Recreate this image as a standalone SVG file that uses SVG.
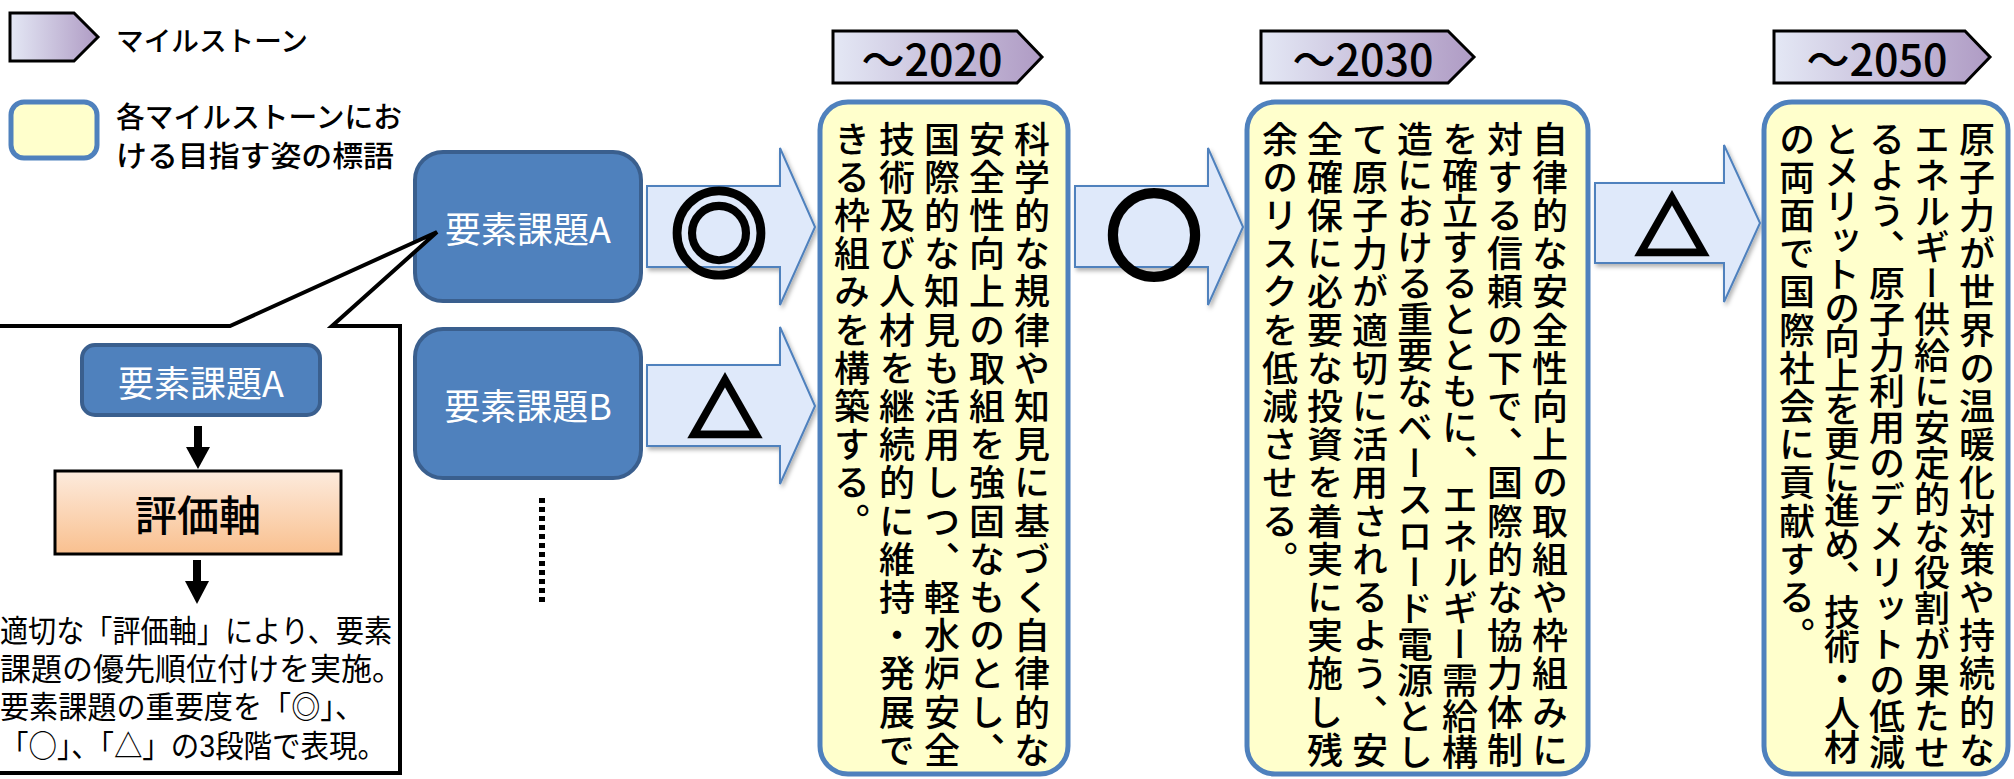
<svg xmlns="http://www.w3.org/2000/svg" width="2014" height="779" viewBox="0 0 2014 779">
<defs>
<style>
.ms{fill:url(#msGrad);stroke:#000;stroke-width:3;}
.msl{font-family:"Noto Sans CJK JP","Noto Sans CJK SC",sans-serif;font-size:43px;font-weight:500;fill:#000;text-anchor:middle;}
.goal{fill:#FFFFCC;stroke:#4F81BD;stroke-width:5;}
.vt{font-family:"Noto Sans CJK JP","Noto Sans CJK SC",sans-serif;font-size:36px;font-weight:500;fill:#000;writing-mode:vertical-rl;letter-spacing:2.2px;}
.vt18{letter-spacing:0.08px;}
.vt19{letter-spacing:-2.2px;}
.task{fill:#4F81BD;stroke:#3A5F8E;stroke-width:4;}
.tasktxt{font-family:"Noto Sans CJK JP","Noto Sans CJK SC",sans-serif;font-size:36px;fill:#fff;text-anchor:middle;}
.barrow{fill:#DFE9FA;stroke:#4F81BD;stroke-width:2;filter:url(#shadow);}
.sym{font-family:"Noto Sans CJK JP","Noto Sans CJK SC",sans-serif;font-weight:bold;fill:#000;stroke:#000;stroke-linejoin:miter;text-anchor:middle;dominant-baseline:central;}
.blk{font-family:"Noto Sans CJK JP","Noto Sans CJK SC",sans-serif;font-weight:500;fill:#000;}
.note{font-family:"Liberation Sans","Noto Sans CJK JP","Noto Sans CJK SC",sans-serif;font-size:31px;fill:#000;}
.cjk{font-family:"Noto Sans CJK JP","Noto Sans CJK SC",sans-serif;}
</style>
<linearGradient id="msGrad" x1="0" y1="0" x2="1" y2="0">
<stop offset="0" stop-color="#E4E8F5"/>
<stop offset="1" stop-color="#AF9BC4"/>
</linearGradient>
<linearGradient id="evalGrad" x1="0" y1="0" x2="0" y2="1">
<stop offset="0" stop-color="#FDEBDD"/>
<stop offset="1" stop-color="#F9C08F"/>
</linearGradient>
<filter id="shadow" x="-10%" y="-10%" width="130%" height="130%">
<feDropShadow dx="2" dy="3" stdDeviation="2" flood-color="#000" flood-opacity="0.3"/>
</filter>
</defs>

<rect x="0" y="0" width="2014" height="779" fill="#fff"/>

<g id="legend">
<polygon class="ms" points="10,13 74,13 98,37 74,61 10,61"/>
<text class="blk" x="116" y="51" font-size="27.5" textLength="192" lengthAdjust="spacingAndGlyphs">マイルストーン</text>
<rect x="11" y="102" width="86" height="56" rx="13" class="goal" stroke-width="4"/>
<text class="blk" font-size="29"><tspan x="116" y="128" textLength="286" lengthAdjust="spacingAndGlyphs">各マイルストーンにお</tspan><tspan x="116" y="167" textLength="278" lengthAdjust="spacingAndGlyphs">ける目指す姿の標語</tspan></text>
</g>

<g id="milestone-2020">
<polygon class="ms" points="833,31 1017,31 1042,57 1017,83 833,83"/>
<text class="msl" x="932" y="76">～2020</text>
</g>
<g id="milestone-2030">
<polygon class="ms" points="1261,31 1448,31 1474,57 1448,83 1261,83"/>
<text class="msl" x="1363" y="76">～2030</text>
</g>
<g id="milestone-2050">
<polygon class="ms" points="1774,31 1965,31 1990,57 1965,83 1774,83"/>
<text class="msl" x="1877" y="76">～2050</text>
</g>

<g id="connectors">
<polygon class="barrow" points="647,186 780,186 780,148 815,227 780,305 780,267 647,267"/>
<text class="sym" x="719" y="227" font-size="98" stroke-width="4.5">◎</text>
<polygon class="barrow" points="647,365 780,365 780,327 815,406 780,484 780,446 647,446"/>
<text class="sym" x="725" y="404" font-size="72" stroke-width="4.5">△</text>
<polygon class="barrow" points="1075,186 1208,186 1208,148 1243,227 1208,305 1208,267 1075,267"/>
<text class="sym" x="1154" y="229" font-size="96" stroke-width="6">○</text>
<polygon class="barrow" points="1595,183 1724,183 1724,145 1760,223 1724,302 1724,263 1595,263"/>
<text class="sym" x="1672" y="222" font-size="72" stroke-width="4.5">△</text>
<line x1="542" y1="498" x2="542" y2="602" stroke="#000" stroke-width="6" stroke-dasharray="5 4"/>
</g>

<g id="node-A">
<rect class="task" x="415" y="152" width="226" height="149" rx="28"/>
<text class="tasktxt" x="528" y="243">要素課題A</text>
</g>
<g id="node-B">
<rect class="task" x="415" y="329" width="226" height="149" rx="28"/>
<text class="tasktxt" x="528" y="420">要素課題B</text>
</g>

<g id="callout">
<polygon points="-5,326 230,326 437,232 332,326 400,326 400,773 -5,773" fill="#fff" stroke="#000" stroke-width="4" stroke-linejoin="miter"/>
<rect class="task" x="82" y="345" width="238" height="70" rx="13"/>
<text class="tasktxt" x="201" y="397">要素課題A</text>
<line x1="198" y1="426" x2="198" y2="449" stroke="#000" stroke-width="8"/>
<polygon points="186,447 210,447 198,469" fill="#000"/>
<rect x="55" y="471" width="286" height="83" fill="url(#evalGrad)" stroke="#000" stroke-width="3"/>
<text class="blk" x="198" y="531" font-size="42" text-anchor="middle">評価軸</text>
<line x1="197" y1="560" x2="197" y2="583" stroke="#000" stroke-width="8"/>
<polygon points="185,581 209,581 197,604" fill="#000"/>
<text class="note"><tspan x="0" y="642" textLength="392" lengthAdjust="spacingAndGlyphs">適切な「評価軸」により、要素</tspan><tspan x="0" y="680">課題の優先順位付けを実施。</tspan><tspan x="0" y="718" textLength="364" lengthAdjust="spacingAndGlyphs">要素課題の重要度を「◎」、</tspan><tspan x="0" y="757" textLength="386" lengthAdjust="spacingAndGlyphs">「<tspan class="cjk">○</tspan>」、「△」の3段階で表現。</tspan></text>
</g>

<g id="goal-2020">
<rect class="goal" x="820" y="102" width="248" height="672" rx="28"/>
<text class="vt" x="1032" y="121">科学的な規律や知見に基づく自律的な</text>
<text class="vt" x="987" y="121">安全性向上の取組を強固なものとし、</text>
<text class="vt" x="942" y="121">国際的な知見も活用しつ、軽水炉安全</text>
<text class="vt" x="897" y="121">技術及び人材を継続的に維持・発展で</text>
<text class="vt" x="852" y="121">きる枠組みを構築する。</text>
</g>

<g id="goal-2030">
<rect class="goal" x="1247" y="102" width="341" height="672" rx="28"/>
<text class="vt" x="1550" y="121">自律的な安全性向上の取組や枠組みに</text>
<text class="vt" x="1505" y="121">対する信頼の下で、国際的な協力体制</text>
<text class="vt vt18" x="1460" y="121">を確立するとともに、エネルギー需給構</text>
<text class="vt vt18" x="1415" y="121">造における重要なベースロード電源とし</text>
<text class="vt" x="1370" y="121">て原子力が適切に活用されるよう、安</text>
<text class="vt" x="1325" y="121">全確保に必要な投資を着実に実施し残</text>
<text class="vt" x="1280" y="121">余のリスクを低減させる。</text>
</g>

<g id="goal-2050">
<rect class="goal" x="1764" y="102" width="244" height="672" rx="28"/>
<text class="vt" x="1977" y="121">原子力が世界の温暖化対策や持続的な</text>
<text class="vt vt18" x="1932" y="121">エネルギー供給に安定的な役割が果たせ</text>
<text class="vt vt18" x="1887" y="121">るよう、原子力利用のデメリットの低減</text>
<text class="vt vt19" x="1842" y="121">とメリットの向上を更に進め、技術・人材</text>
<text class="vt" x="1797" y="121">の両面で国際社会に貢献する。</text>
</g>
</svg>
